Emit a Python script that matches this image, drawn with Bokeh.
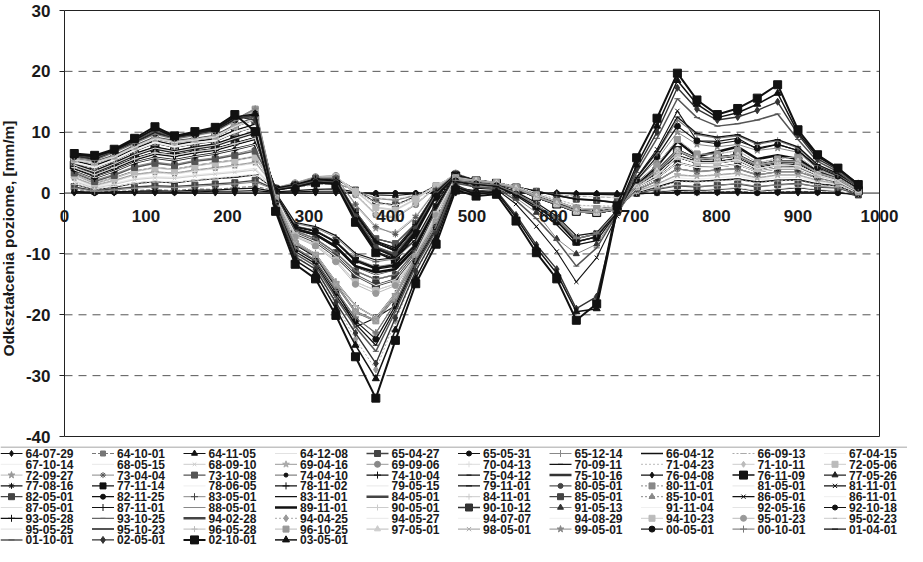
from bokeh.plotting import figure
from bokeh.layouts import column
from bokeh.models import Range1d, FixedTicker, Span, LinearAxis, Label
from bokeh.core.properties import value
from bokeh.embed import file_html
from bokeh.resources import INLINE

# ---------------- data ----------------
x_pos = [12, 37, 61, 86, 111, 135, 160, 185, 209, 234, 259, 283, 308, 333, 357, 382, 406, 431, 456, 480,
         505, 530, 554, 579, 604, 628, 653, 678, 702, 727, 752, 776, 801, 826, 850, 875, 900, 924, 949, 974]
x_ticks = [0, 100, 200, 300, 400, 500, 600, 700, 800, 900, 1000]
y_ticks = [-40, -30, -20, -10, 0, 10, 20, 30]
y_dashed = [-30, -20, -10, 10, 20]

dates = ["64-07-29", "64-10-01", "64-11-05", "64-12-08", "65-04-27", "65-05-31", "65-12-14", "66-04-12", "66-09-13", "67-04-15",
         "67-10-14", "68-05-15", "68-09-10", "69-04-16", "69-09-06", "70-04-13", "70-09-11", "71-04-23", "71-10-11", "72-05-06",
         "72-09-27", "73-04-04", "73-10-08", "74-04-10", "74-10-04", "75-04-12", "75-10-16", "76-04-08", "76-11-09", "77-05-26",
         "77-08-16", "77-11-14", "78-06-05", "78-11-02", "79-05-15", "79-11-01", "80-05-01", "80-11-01", "81-05-01", "81-11-01",
         "82-05-01", "82-11-25", "83-05-01", "83-11-01", "84-05-01", "84-11-01", "85-05-01", "85-10-01", "86-05-01", "86-11-01",
         "87-05-01", "87-11-01", "88-05-01", "89-11-01", "90-05-01", "90-10-12", "91-05-13", "91-11-04", "92-05-16", "92-10-18",
         "93-05-28", "93-10-25", "94-02-28", "94-04-25", "94-05-27", "94-07-07", "94-08-29", "94-10-23", "95-01-23", "95-02-23",
         "95-05-25", "95-10-23", "96-05-28", "96-10-25", "97-05-01", "98-05-01", "99-05-01", "00-05-01", "00-10-01", "01-04-01",
         "01-10-01", "02-05-01", "02-10-01", "03-05-01"]

s01 = [0, 0, 0, 0, 0, 0, 0, 0, 0, 0, 0, 0, 0, 0, 0, 0, 0, 0, 0, 0, 0, 0, 0, 0, 0, 0, 0, 0, 0, 0, 0, 0, 0, 0, 0, 0, 0, 0, 0, 0]
s02 = [0.5,0.2,0.3,0.4,0.6,0.4,0.7,0.6,0.9,1.1, 0.4,0.9,1.4,1.6,0.4,-0.8,-1.1,-0.3,0.9,1.8, 1.0,0.8,0.5,0.2,-0.2,-0.5,-0.6,-0.8, -0.1,0.0,0.2,0.1,0.2,0.3,0.1,0.2,0.3,0.2,0.1,-0.2]
s03 = [0.3,0.1,0.2,0.3,0.4,0.3,0.5,0.5,0.7,0.8, 0.2,0.4,0.6,0.7,0.2,-0.3,-0.4,-0.1,0.4,0.8, 0.4,0.3,0.2,0.1,0.0,-0.2,-0.2,-0.3, -0.2,0.2,0.5,0.4,0.6,0.8,0.3,0.6,0.9,0.5,0.3,-0.5]
s04 = [0.9,0.3,0.6,0.9,1.1,1.0,1.2,1.4,1.6,2.0, 0.4,1.0,1.5,1.7,0.5,-0.7,-1.0,-0.2,1.0,1.9, 1.1,0.9,0.6,0.2,-0.1,-0.4,-0.6,-0.7, -0.3,0.3,0.6,0.5,0.7,0.9,0.4,0.7,1.0,0.6,0.4,-0.4]
s05 = [1.0,0.4,0.7,1.0,1.2,1.1,1.3,1.5,1.7,2.1, 0.6,1.3,2.1,2.4,0.5,-1.6,-2.0,-0.6,1.2,2.6, 1.8,1.5,1.0,0.3,-0.4,-1.0,-1.2,-1.6, 0.0,0.6,1.2,1.0,1.3,1.5,1.0,1.4,1.6,1.0,0.8,-0.2]
s06 = [0.2,0.0,0.1,0.2,0.2,0.1,0.2,0.3,0.3,0.4, 0.1,0.2,0.3,0.3,0.0,0.0,0.0,0.0,0.1,0.4, 0.3,0.2,0.1,0.0,0.0,-0.1,-0.1,-0.2, -0.1,0.0,0.1,0.1,0.1,0.2,0.0,0.1,0.2,0.1,0.0,-0.2]
s07 = [0.8,0.3,0.5,0.8,1.0,0.9,1.1,1.3,1.5,1.8, 0.5,1.0,1.5,1.7,0.4,-0.9,-1.2,-0.4,0.8,1.9, 1.7,1.4,0.9,0.3,-0.3,-0.9,-1.1,-1.5, 0.1,0.7,1.3,1.1,1.2,1.6,1.1,1.3,1.5,1.1,0.9,-0.1]
s08 = [1.5,0.6,1.0,1.6,1.9,1.7,2.1,2.4,2.6,3.0, 0.6,1.3,2.1,2.4,0.5,-1.6,-2.0,-0.6,1.2,2.6, 1.8,1.5,1.0,0.3,-0.4,-1.0,-1.2,-1.6, 0.1,1.0,2.0,1.9,2.1,2.3,1.8,2.1,2.2,1.5,1.2,-0.1]
s09 = [1.4,0.5,1.1,1.5,1.8,1.8,2.0,2.3,2.7,2.9, 0.5,1.2,2.0,2.3,0.6,-1.5,-1.9,-0.5,1.3,2.5, 2.2,1.8,1.1,0.0,-1.0,-2.0,-2.1,-2.2, 0.0,0.9,1.9,1.8,2.0,2.2,1.7,2.0,2.1,1.4,1.1,-0.2]
s10 = [1.6,0.7,1.1,1.7,2.0,1.8,2.2,2.5,2.8,3.1, 0.7,1.4,2.2,2.5,0.4,-1.7,-2.1,-0.7,1.1,2.7, 2.1,1.7,1.0,-0.1,-1.1,-2.1,-2.2,-2.3, 0.2,1.2,2.5,2.3,2.5,2.8,2.2,2.5,2.6,1.8,1.4,0.0]
s11 = [2.0,0.9,1.5,2.3,2.6,2.5,2.9,3.2,3.5,4.0, 0.7,1.5,2.4,2.7,0.3,-2.4,-2.8,-1.0,1.2,3.0, 2.2,1.8,1.1,0.0,-1.0,-2.0,-2.1,-2.2, 0.2,1.2,2.5,2.3,2.5,2.8,2.2,2.5,2.6,1.8,1.4,0.0]
s12 = [2.1,1.0,1.6,2.4,2.7,2.6,3.0,3.3,3.6,4.1, 0.8,1.6,2.5,2.8,0.2,-2.5,-2.9,-1.1,1.1,3.1, 2.1,1.7,1.0,-0.3,-1.4,-2.5,-2.6,-2.4, 0.3,1.5,3.0,2.8,3.0,3.3,2.5,3.0,3.0,2.1,1.6,0.1]
s13 = [1.9,0.8,1.4,2.2,2.5,2.4,2.8,3.1,3.4,3.8, 0.6,1.4,2.3,2.6,0.4,-2.3,-2.7,-0.9,1.3,2.9, 2.0,1.6,0.9,-0.4,-1.5,-2.6,-2.7,-2.5, 0.2,1.4,2.9,2.7,2.9,3.2,2.4,2.9,2.9,2.0,1.5,0.0]
s14 = [2.5,1.2,2.0,3.0,3.4,3.2,3.7,4.1,4.5,5.0, 0.8,1.6,2.6,2.8,-0.2,-3.5,-4.0,-1.8,1.0,3.2, 2.1,1.7,1.0,-0.3,-1.4,-2.5,-2.6,-2.4, 0.3,1.5,3.0,2.8,3.0,3.3,2.5,3.0,3.0,2.1,1.6,0.1]
s15 = [2.6,1.3,2.1,3.1,3.5,3.3,3.8,4.2,4.6,5.1, 0.9,1.7,2.7,2.9,-0.3,-3.6,-4.1,-1.9,0.9,3.3, 2.0,1.6,0.8,-0.6,-1.8,-3.0,-3.2,-2.6, 0.5,2.0,4.0,3.5,3.8,4.0,3.0,3.5,3.5,2.5,1.8,0.2]
s16 = [2.4,1.1,1.9,2.9,3.3,3.1,3.6,4.0,4.4,4.9, 0.7,1.5,2.4,2.7,0.3,-2.4,-2.8,-1.0,1.2,3.0, 2.0,1.6,0.8,-0.6,-1.8,-3.0,-3.2,-2.6, 0.4,1.9,3.9,3.4,3.7,3.9,2.9,3.4,3.4,2.4,1.7,0.1]
s17 = [3.0,1.6,2.5,3.6,4.2,3.9,4.5,5.0,5.4,6.0, 0.8,1.4,2.4,2.3,-3.0,-7.5,-8.3,-5.0,0.3,3.1, 2.0,1.6,0.8,-0.6,-1.8,-3.0,-3.2,-2.6, 0.5,2.0,4.0,3.5,3.8,4.0,3.0,3.5,3.5,2.5,1.8,0.2]
s18 = [2.5,1.3,2.0,3.0,3.5,3.2,3.8,4.1,4.6,5.0, 0.9,1.7,2.6,2.9,-0.1,-3.4,-3.9,-1.7,1.1,3.2, 2.2,1.8,1.1,0.0,-1.0,-2.0,-2.1,-2.2, 0.3,1.5,3.0,2.8,3.0,3.3,2.5,3.0,3.0,2.1,1.6,0.1]
s19 = [3.0,1.7,2.5,3.6,4.3,3.9,4.6,5.0,5.5,6.1, 0.8,1.6,2.6,2.8,-0.2,-3.5,-4.0,-1.8,1.0,3.2, 2.1,1.7,1.0,-0.3,-1.4,-2.5,-2.6,-2.4, 0.5,2.0,4.0,3.5,3.8,4.0,3.0,3.5,3.5,2.5,1.8,0.2]
s20 = [2.9,1.5,2.4,3.5,4.1,3.8,4.4,4.9,5.3,5.9, 0.7,1.5,2.4,2.7,0.3,-2.4,-2.8,-1.0,1.2,3.0, 2.0,1.6,0.8,-0.6,-1.8,-3.0,-3.2,-2.6, 0.8,2.5,5.0,4.2,4.3,4.7,3.5,4.0,4.0,2.7,1.9,0.2]
s21 = [3.4,2.0,3.0,4.3,5.0,4.6,5.3,5.7,6.3,7.0, 0.8,1.5,2.5,2.5,-2.0,-5.8,-6.5,-3.8,0.6,3.2, 2.0,1.6,0.8,-0.6,-1.8,-3.0,-3.2,-2.6, 0.8,2.5,5.0,4.2,4.3,4.7,3.5,4.0,4.0,2.7,1.9,0.2]
s22 = [3.5,2.1,3.1,4.4,5.1,4.7,5.4,5.8,6.4,7.2, 0.9,1.6,2.6,2.6,-1.8,-5.5,-6.8,-4.0,0.5,3.3, 1.9,1.5,0.7,-0.7,-1.9,-3.1,-3.3,-2.7, 0.5,2.0,4.0,3.5,3.8,4.0,3.0,3.5,3.5,2.5,1.8,0.2]
s23 = [3.3,1.9,2.9,4.2,4.9,4.5,5.2,5.6,6.2,6.9, 0.8,1.4,2.4,2.3,-3.0,-7.5,-8.3,-5.0,0.3,3.1, 2.1,1.7,1.0,-0.3,-1.4,-2.5,-2.6,-2.4, 0.8,2.5,5.0,4.2,4.3,4.7,3.5,4.0,4.0,2.7,1.9,0.2]
s24 = [3.8,2.5,3.6,5.0,5.8,5.4,6.0,6.5,7.2,8.0, 0.6,1.2,2.0,1.8,-4.0,-9.0,-10.2,-6.0,-0.2,2.9, 2.0,1.6,0.8,-0.6,-1.8,-3.0,-3.2,-2.6, 0.9,2.6,5.1,4.3,4.4,4.8,3.6,4.1,4.1,2.8,2.0,0.3]
s25 = [3.7,2.4,3.5,4.9,5.7,5.3,5.9,6.4,7.1,7.9, 0.7,1.3,2.2,2.0,-3.5,-8.2,-9.5,-5.5,0.0,3.0, 2.1,1.7,1.0,-0.3,-1.4,-2.5,-2.6,-2.4, 1.0,3.0,6.0,5.0,5.0,5.5,4.0,4.6,4.5,3.0,2.0,0.3]
s26 = [3.9,2.6,3.7,5.1,5.9,5.5,6.1,6.6,7.3,8.1, 0.7,1.3,2.2,2.0,-3.4,-8.0,-9.3,-5.4,0.1,3.0, 2.0,1.6,0.8,-0.6,-1.8,-3.0,-3.2,-2.6, 1.0,3.0,6.0,5.0,5.0,5.5,4.0,4.6,4.5,3.0,2.0,0.3]
s27 = [4.2,3.0,4.2,5.6,6.6,6.2,6.8,7.2,8.1,9.0, 0.6,1.2,2.0,1.8,-4.0,-9.0,-10.5,-6.0,-0.2,2.9, 2.0,1.6,0.8,-0.6,-1.8,-3.0,-3.2,-2.6, 1.1,3.1,6.1,5.1,5.1,5.6,4.1,4.7,4.6,3.1,2.1,0.4]
s28 = [4.1,2.9,4.1,5.5,6.5,6.1,6.7,7.1,8.0,8.9, 0.5,1.0,1.8,1.5,-4.5,-9.5,-11.4,-6.5,-0.5,2.8, 1.9,1.5,0.7,-0.7,-1.9,-3.1,-3.3,-2.7, 0.8,2.5,5.0,4.2,4.3,4.7,3.5,4.0,4.0,2.7,1.9,0.2]
s29 = [4.6,3.5,4.8,6.3,7.4,6.8,7.4,7.9,9.0,10.0, 0.5,1.0,1.7,1.4,-4.8,-9.8,-11.0,-6.8,-0.6,2.8, 2.0,1.6,0.8,-0.6,-1.8,-3.0,-3.2,-2.6, 1.2,3.6,7.0,5.6,5.8,6.2,4.6,5.2,5.2,3.3,2.3,0.4]
s30 = [4.5,3.4,4.7,6.2,7.3,6.7,7.3,7.8,8.9,9.9, 0.6,1.2,2.0,1.8,-4.0,-9.0,-10.0,-6.0,-0.2,2.9, 2.1,1.7,1.0,-0.3,-1.4,-2.5,-2.6,-2.4, 1.2,3.6,7.0,5.6,5.8,6.2,4.6,5.2,5.2,3.3,2.3,0.4]
s31 = [4.3,3.1,4.3,5.7,6.7,6.3,6.9,7.3,8.2,9.1, 0.7,1.3,2.2,2.0,-3.5,-8.2,-9.5,-5.5,0.0,3.0, 2.0,1.6,0.8,-0.6,-1.8,-3.0,-3.2,-2.6, 1.0,3.0,6.0,5.0,5.0,5.5,4.0,4.6,4.5,3.0,2.0,0.3]
s32 = [4.7,3.6,4.9,6.4,7.5,6.9,7.5,8.0,9.1,10.1, -0.2,-5.5,-6.2,-8.0,-11.0,-12.3,-11.8,-8.4,-2.2,2.9, 2.0,1.6,0.8,-0.6,-1.8,-3.0,-3.2,-2.6, 1.3,3.7,7.1,5.7,5.9,6.3,4.7,5.3,5.3,3.4,2.4,0.5]
s33 = [3.8,2.5,3.6,5.0,5.8,5.4,6.0,6.5,7.2,8.0, 0.0,-5.0,-5.7,-7.3,-10.2,-11.3,-10.8,-7.8,-1.8,3.0, 2.0,1.6,0.8,-0.6,-1.8,-3.0,-3.2,-2.6, 1.0,3.0,6.0,5.0,5.0,5.5,4.0,4.6,4.5,3.0,2.0,0.3]
s34 = [4.0,2.8,4.0,5.4,6.4,6.0,6.6,7.0,7.9,8.8, 0.8,1.4,2.3,2.1,-3.2,-7.9,-9.0,-5.2,0.2,3.0, 2.0,1.6,0.8,-0.6,-1.8,-3.0,-3.2,-2.6, 0.9,2.9,5.9,4.9,4.9,5.4,3.9,4.5,4.4,2.9,1.9,0.2]
s35 = [4.2,3.0,4.2,5.6,6.6,6.2,6.8,7.2,8.1,9.0, -0.2,-5.5,-6.2,-8.0,-11.0,-12.3,-11.8,-8.4,-2.2,2.9, 2.0,1.6,0.8,-0.6,-1.8,-3.0,-3.2,-2.6, 1.0,3.0,6.0,5.0,5.0,5.5,4.0,4.6,4.5,3.0,2.0,0.3]
s36 = [4.8,3.7,5.0,6.5,7.6,7.0,7.6,8.1,9.2,10.2, 0.6,1.2,2.0,1.8,-4.2,-9.2,-10.4,-6.2,-0.3,2.9, 2.0,1.6,0.8,-0.6,-1.8,-3.0,-3.2,-2.6, 1.2,3.6,7.0,5.6,5.8,6.2,4.6,5.2,5.2,3.3,2.3,0.4]
s37 = [4.4,3.3,4.6,6.1,7.2,6.6,7.2,7.7,8.8,9.8, 0.6,1.2,2.0,1.8,-3.8,-8.8,-10.0,-5.8,-0.1,2.9, 1.6,1.3,0.0,-2.0,-4.2,-7.5,-6.7,-3.0, 1.2,3.6,7.0,5.6,5.8,6.2,4.6,5.2,5.2,3.3,2.3,0.4]
s38 = [5.0,4.2,5.4,7.0,8.3,7.6,8.2,8.6,10.0,11.0, -0.8,-7.0,-8.5,-11.0,-14.6,-16.0,-14.9,-10.5,-3.5,2.5, 2.1,1.7,1.0,-0.3,-1.4,-2.5,-2.6,-2.4, 1.6,4.6,8.8,6.4,6.4,7.0,5.0,5.6,6.0,3.8,2.6,0.5]
s39 = [4.6,3.5,4.8,6.3,7.4,6.8,7.4,7.9,9.0,10.0, -0.3,-5.9,-6.8,-8.8,-12.0,-13.3,-12.5,-9.0,-2.6,2.8, 2.0,1.6,0.8,-0.6,-1.8,-3.0,-3.2,-2.6, 1.0,3.0,6.0,5.0,5.0,5.5,4.0,4.6,4.5,3.0,2.0,0.3]
s40 = [5.5,5.0,6.0,7.6,9.0,8.4,8.8,9.3,11.0,12.2, -1.2,-8.5,-10.5,-15.5,-22.0,-20.5,-18.5,-10.5,-5.0,2.2, 0.8,0.6,-1.8,-5.5,-9.6,-14.6,-10.6,-3.8, 2.6,7.2,13.5,8.6,8.5,9.0,7.2,8.0,7.0,4.4,3.0,1.2]
s41 = [5.1,4.3,5.5,7.1,8.4,7.7,8.3,8.7,10.1,11.1, -0.5,-6.2,-7.5,-9.8,-12.8,-14.2,-13.4,-9.5,-3.0,2.7, 1.5,1.2,-0.2,-2.2,-4.6,-8.0,-7.2,-3.0, 1.2,3.6,7.0,5.6,5.8,6.2,4.6,5.2,5.2,3.3,2.3,0.4]
s42 = [4.5,3.4,4.7,6.2,7.3,6.7,7.3,7.8,8.9,9.9, 0.5,1.0,1.8,1.6,-4.4,-9.6,-10.8,-6.4,-0.4,2.8, 2.0,1.6,0.8,-0.6,-1.8,-3.0,-3.2,-2.6, 1.0,3.0,6.0,5.0,5.0,5.5,4.0,4.6,4.5,3.0,2.0,0.3]
s43 = [4.6,3.5,4.8,6.3,7.4,6.8,7.4,7.9,9.0,10.0, 0.0,-5.0,-5.7,-7.3,-10.2,-11.3,-10.8,-7.8,-1.8,3.0, 2.0,1.6,0.8,-0.6,-1.8,-3.0,-3.2,-2.6, 0.8,2.5,5.0,4.2,4.3,4.7,3.5,4.0,4.0,2.7,1.9,0.2]
s44 = [4.7,3.6,4.9,6.4,7.5,6.9,7.5,8.0,9.1,10.1, 0.1,-4.8,-5.5,-7.0,-9.9,-11.0,-10.6,-7.6,-1.6,3.0, 2.0,1.6,0.8,-0.6,-1.8,-3.0,-3.2,-2.6, 1.0,3.0,6.0,5.0,5.0,5.5,4.0,4.6,4.5,3.0,2.0,0.3]
s45 = [5.0,4.2,5.4,7.0,8.3,7.6,8.2,8.6,10.0,11.0, -0.3,-5.9,-6.8,-8.8,-12.0,-13.3,-12.5,-9.0,-2.6,2.8, 2.0,1.6,0.8,-0.6,-1.8,-3.0,-3.2,-2.6, 1.2,3.6,7.0,5.6,5.8,6.2,4.6,5.2,5.2,3.3,2.3,0.4]
s46 = [4.2,3.0,4.2,5.6,6.6,6.2,6.8,7.2,8.1,9.0, -0.2,-5.5,-6.2,-8.0,-11.0,-12.3,-11.8,-8.4,-2.2,2.9, 2.0,1.6,0.8,-0.6,-1.8,-3.0,-3.2,-2.6, 1.0,3.0,6.0,5.0,5.0,5.5,4.0,4.6,4.5,3.0,2.0,0.3]
s47 = [5.2,4.4,5.6,7.2,8.5,7.8,8.4,8.8,10.2,11.2, -0.6,-6.6,-8.0,-10.4,-13.5,-15.2,-14.2,-10.0,-3.2,2.6, 1.6,1.3,0.0,-2.0,-4.2,-7.5,-6.7,-3.0, 1.2,3.6,7.0,5.6,5.8,6.2,4.6,5.2,5.2,3.3,2.3,0.4]
s48 = [4.9,4.1,5.3,6.9,8.2,7.5,8.1,8.5,9.9,10.9, -0.5,-6.2,-7.5,-9.8,-12.8,-14.2,-13.4,-9.5,-3.0,2.7, 2.1,1.7,1.0,-0.3,-1.4,-2.5,-2.6,-2.4, 1.0,3.0,6.0,5.0,5.0,5.5,4.0,4.6,4.5,3.0,2.0,0.3]
s49 = [5.0,4.2,5.4,7.0,8.3,7.6,8.2,8.6,10.0,11.0, -0.2,-5.5,-6.2,-8.0,-11.0,-12.3,-11.8,-8.4,-2.2,2.9, 1.7,1.4,0.2,-1.6,-3.8,-7.0,-6.5,-2.8, 1.2,3.6,7.0,5.6,5.8,6.2,4.6,5.2,5.2,3.3,2.3,0.4]
s50 = [5.0,4.2,5.4,7.0,8.3,7.6,8.2,8.6,10.0,11.0, -0.3,-5.9,-6.8,-8.8,-12.0,-13.3,-12.5,-9.0,-2.6,2.8, 2.0,1.6,0.8,-0.6,-1.8,-3.0,-3.2,-2.6, 1.0,3.0,6.0,5.0,5.0,5.5,4.0,4.6,4.5,3.0,2.0,0.3]
s51 = [4.6,3.5,4.8,6.3,7.4,6.8,7.4,7.9,9.0,10.0, -0.3,-5.9,-6.8,-8.8,-12.0,-13.3,-12.5,-9.0,-2.6,2.8, 2.0,1.6,0.8,-0.6,-1.8,-3.0,-3.2,-2.6, 0.8,2.5,5.0,4.2,4.3,4.7,3.5,4.0,4.0,2.7,1.9,0.2]
s52 = [5.1,4.3,5.5,7.1,8.4,7.7,8.3,8.7,10.1,11.1, -0.2,-5.6,-6.3,-8.1,-11.2,-12.5,-12.0,-8.5,-2.3,2.9, 2.0,1.6,0.8,-0.6,-1.8,-3.0,-3.2,-2.6, 1.1,3.1,6.1,5.1,5.1,5.6,4.1,4.7,4.6,3.1,2.1,0.4]
s53 = [4.9,4.1,5.3,6.9,8.2,7.5,8.1,8.5,9.9,10.9, -0.1,-5.4,-6.1,-7.9,-10.8,-12.1,-11.6,-8.2,-2.0,2.9, 2.0,1.6,0.8,-0.6,-1.8,-3.0,-3.2,-2.6, 0.9,2.9,5.9,4.9,4.9,5.4,3.9,4.5,4.4,2.9,1.9,0.2]
s54 = [5.2,4.4,5.6,7.2,8.5,7.8,8.4,8.8,10.2,11.2, -0.3,-5.9,-6.8,-8.8,-12.0,-13.0,-12.5,-9.0,-2.6,2.8, 2.0,1.6,0.8,-0.6,-1.8,-3.0,-3.2,-2.6, 1.5,4.4,8.5,6.0,6.8,7.6,5.6,6.2,5.6,3.6,2.5,0.5]
s55 = [5.0,4.2,5.4,7.0,8.3,7.6,8.2,8.6,10.0,11.0, -0.5,-6.2,-7.5,-9.8,-12.8,-14.2,-13.4,-9.5,-3.0,2.7, 2.0,1.6,0.8,-0.6,-1.8,-3.0,-3.2,-2.6, 1.0,3.0,6.0,5.0,5.0,5.5,4.0,4.6,4.5,3.0,2.0,0.3]
s56 = [5.5,5.0,6.0,7.6,9.0,8.4,8.8,9.3,11.0,12.2, -0.6,-6.6,-8.0,-10.4,-13.5,-15.2,-14.2,-10.0,-3.2,2.6, 1.5,1.2,-0.2,-2.2,-4.6,-8.0,-7.2,-3.0, 1.2,3.6,7.0,5.6,5.8,6.2,4.6,5.2,5.2,3.3,2.3,0.4]
s57 = [5.4,4.9,5.9,7.5,8.9,8.3,8.7,9.2,10.9,12.1, -0.5,-6.2,-7.5,-9.8,-12.8,-14.2,-13.4,-9.5,-3.0,2.7, 1.2,1.0,-0.8,-3.2,-7.5,-10.0,-8.4,-3.4, 1.2,3.6,7.0,5.6,5.8,6.2,4.6,5.2,5.2,3.3,2.3,0.4]
s58 = [5.0,4.2,5.4,7.0,8.3,7.6,8.2,8.6,10.0,11.0, -0.6,-6.6,-8.0,-10.4,-13.5,-15.2,-14.2,-10.0,-3.2,2.6, 2.0,1.6,0.8,-0.6,-1.8,-3.0,-3.2,-2.6, 1.0,3.0,6.0,5.0,5.0,5.5,4.0,4.6,4.5,3.0,2.0,0.3]
s59 = [5.1,4.3,5.5,7.1,8.4,7.7,8.3,8.7,10.1,11.1, -0.5,-6.2,-7.5,-9.8,-12.8,-14.2,-13.4,-9.5,-3.0,2.7, 2.0,1.6,0.8,-0.6,-1.8,-3.0,-3.2,-2.6, 1.0,3.0,6.0,5.0,5.0,5.5,4.0,4.6,4.5,3.0,2.0,0.3]
s60 = [5.6,5.1,6.1,7.7,9.1,8.5,8.9,9.4,11.1,12.3, -0.2,-5.5,-6.2,-8.0,-11.0,-12.3,-11.8,-8.4,-2.2,2.9, 2.0,1.6,0.8,-0.6,-1.8,-3.0,-3.2,-2.6, 1.2,3.6,7.0,5.6,5.8,6.2,4.6,5.2,5.2,3.3,2.3,0.4]
s61 = [5.5,5.0,6.0,7.6,9.0,8.4,8.8,9.3,11.0,12.2, -1.0,-8.0,-10.0,-14.6,-18.5,-20.5,-16.5,-10.0,-4.5,2.4, 2.0,1.6,0.8,-0.6,-1.8,-3.0,-3.2,-2.6, 1.2,3.6,7.0,5.6,5.8,6.2,4.6,5.2,5.2,3.3,2.3,0.4]
s62 = [5.4,4.9,5.9,7.5,8.9,8.3,8.7,9.2,10.9,12.1, -0.5,-6.2,-7.5,-9.8,-12.8,-14.2,-13.4,-9.5,-3.0,2.7, 2.0,1.6,0.8,-0.6,-1.8,-3.0,-3.2,-2.6, 1.0,3.0,6.0,5.0,5.0,5.5,4.0,4.6,4.5,3.0,2.0,0.3]
s63 = [5.6,5.1,6.1,7.7,9.1,8.5,8.9,9.4,11.1,12.3, -0.6,-6.6,-8.0,-10.4,-13.5,-15.2,-14.2,-10.0,-3.2,2.6, 2.0,1.6,0.8,-0.6,-1.8,-3.0,-3.2,-2.6, 1.2,3.6,7.0,5.6,5.8,6.2,4.6,5.2,5.2,3.3,2.3,0.4]
s64 = [5.5,5.0,6.0,7.6,9.0,8.4,8.8,9.3,11.0,12.2, -2.2,-10.2,-12.6,-18.4,-24.0,-29.0,-21.0,-13.0,-7.0,1.4, 2.1,1.7,1.0,-0.3,-1.4,-2.5,-2.6,-2.4, 1.0,3.0,6.0,5.0,5.0,5.5,4.0,4.6,4.5,3.0,2.0,0.3]
s65 = [5.0,4.2,5.4,7.0,8.3,7.6,8.2,8.6,10.0,11.0, -0.8,-7.0,-8.5,-11.0,-14.6,-16.0,-14.9,-10.5,-3.5,2.5, 2.0,1.6,0.8,-0.6,-1.8,-3.0,-3.2,-2.6, 1.0,3.0,6.0,5.0,5.0,5.5,4.0,4.6,4.5,3.0,2.0,0.3]
s66 = [5.0,4.2,5.4,7.0,8.3,7.6,8.2,8.6,10.0,11.0, -0.8,-7.0,-8.5,-11.0,-14.6,-16.0,-14.9,-10.5,-3.5,2.5, 2.0,1.6,0.8,-0.6,-1.8,-3.0,-3.2,-2.6, 0.8,2.5,5.0,4.2,4.3,4.7,3.5,4.0,4.0,2.7,1.9,0.2]
s67 = [5.1,4.3,5.5,7.1,8.4,7.7,8.3,8.7,10.1,11.1, -0.6,-6.6,-8.0,-10.4,-13.5,-15.2,-14.2,-10.0,-3.2,2.6, 2.0,1.6,0.8,-0.6,-1.8,-3.0,-3.2,-2.6, 1.0,3.0,6.0,5.0,5.0,5.5,4.0,4.6,4.5,3.0,2.0,0.3]
s68 = [5.5,5.0,6.0,7.6,9.0,8.4,8.8,9.3,11.0,12.2, -0.8,-7.0,-8.5,-11.0,-14.6,-16.0,-14.9,-10.5,-3.5,2.5, 2.0,1.6,0.8,-0.6,-1.8,-3.0,-3.2,-2.6, 1.0,3.0,6.0,5.0,5.0,5.5,4.0,4.6,4.5,3.0,2.0,0.3]
s69 = [5.6,5.1,6.1,7.7,9.1,8.5,8.9,9.4,11.1,12.3, -0.9,-7.2,-8.7,-11.3,-15.0,-16.5,-15.2,-10.8,-3.7,2.5, 2.1,1.7,1.0,-0.3,-1.4,-2.5,-2.6,-2.4, 1.2,3.6,7.0,5.6,5.8,6.2,4.6,5.2,5.2,3.3,2.3,0.4]
s70 = [5.5,5.0,6.0,7.6,9.0,8.4,8.8,9.3,11.0,12.2, -1.0,-8.0,-10.0,-14.6,-18.5,-20.5,-16.5,-10.0,-4.5,2.4, 2.0,1.6,0.8,-0.6,-1.8,-3.0,-3.2,-2.6, 1.0,3.0,6.0,5.0,5.0,5.5,4.0,4.6,4.5,3.0,2.0,0.3]
s71 = [5.4,4.9,5.9,7.5,8.9,8.3,8.7,9.2,10.9,12.1, -1.2,-8.2,-10.2,-15.0,-19.5,-21.0,-17.0,-10.5,-4.8,2.3, 2.0,1.6,0.8,-0.6,-1.8,-3.0,-3.2,-2.6, 1.0,3.0,6.0,5.0,5.0,5.5,4.0,4.6,4.5,3.0,2.0,0.3]
s72 = [6.0,5.5,6.8,8.3,9.8,9.0,9.6,10.2,12.0,13.8, -1.2,-8.2,-10.2,-15.0,-19.5,-21.0,-17.0,-10.5,-4.8,2.3, 2.0,1.6,0.8,-0.6,-1.8,-3.0,-3.2,-2.6, 1.2,3.6,7.0,5.6,5.8,6.2,4.6,5.2,5.2,3.3,2.3,0.4]
s73 = [5.9,5.4,6.7,8.2,9.7,8.9,9.5,10.1,11.9,13.6, -1.0,-8.0,-10.0,-14.6,-18.5,-20.5,-16.5,-10.0,-4.5,2.4, 2.1,1.7,1.0,-0.3,-1.4,-2.5,-2.6,-2.4, 1.2,3.6,7.0,5.6,5.8,6.2,4.6,5.2,5.2,3.3,2.3,0.4]
s74 = [6.0,5.5,6.8,8.3,9.8,9.0,9.6,10.2,12.0,13.8, -1.2,-8.2,-10.2,-15.0,-19.5,-21.0,-17.0,-10.5,-4.8,2.3, 2.1,1.7,1.0,-0.3,-1.4,-2.5,-2.6,-2.4, 1.6,4.6,8.8,6.4,6.4,7.0,5.0,5.6,6.0,3.8,2.6,0.5]
s75 = [5.8,5.3,6.6,8.1,9.6,8.8,9.4,10.0,11.8,13.5, -1.5,-9.0,-11.0,-16.0,-20.5,-23.0,-18.0,-11.0,-5.4,2.1, 2.0,1.6,0.8,-0.6,-1.8,-3.0,-3.2,-2.6, 1.2,3.6,7.0,5.6,5.8,6.2,4.6,5.2,5.2,3.3,2.3,0.4]
s76 = [6.1,5.6,6.9,8.4,9.9,9.1,9.7,10.3,12.1,13.8, -1.2,-8.2,-10.2,-15.0,-19.5,-21.0,-17.0,-10.5,-4.8,2.3, 2.0,1.6,0.8,-0.6,-1.8,-3.0,-3.2,-2.6, 1.2,3.6,7.0,5.6,5.8,6.2,4.6,5.2,5.2,3.3,2.3,0.4]
s77 = [6.0,5.5,6.8,8.3,9.8,9.0,9.6,10.2,12.0,13.8, -1.5,-9.0,-11.0,-16.0,-20.5,-23.0,-18.0,-11.0,-5.4,2.1, 1.6,1.3,0.0,-2.0,-4.2,-7.5,-6.7,-3.0, 2.0,5.5,10.0,8.0,7.6,8.0,7.0,7.4,6.7,4.0,2.8,0.8]
s78 = [6.0,5.5,6.8,8.3,9.8,9.0,9.6,10.2,12.0,13.0, -1.6,-9.2,-11.2,-16.3,-21.0,-24.0,-18.5,-11.2,-5.6,2.0, 1.5,1.2,-0.2,-2.2,-4.6,-8.0,-7.2,-3.0, 2.1,6.0,11.0,8.6,8.1,8.6,7.4,8.0,7.0,4.2,2.8,0.8]
s79 = [5.9,5.4,6.7,8.2,9.7,8.9,9.5,10.1,11.9,13.2, -1.5,-9.0,-11.0,-16.0,-20.5,-23.0,-18.0,-11.0,-5.4,2.1, 1.6,1.3,0.0,-2.0,-4.2,-7.5,-6.7,-3.0, 2.4,6.6,12.0,9.6,9.0,9.4,8.0,8.6,7.4,4.6,3.1,1.0]
s80 = [6.2,5.7,7.0,8.5,10.0,9.2,9.8,10.4,12.2,12.8, -1.8,-9.6,-11.6,-16.8,-21.5,-25.0,-19.0,-11.6,-6.0,1.8, 1.4,1.1,-0.4,-2.6,-5.2,-8.5,-7.8,-3.2, 2.5,6.8,12.5,9.8,9.2,9.6,8.2,8.8,7.6,4.7,3.2,1.1]
s81 = [6.3,5.8,7.0,8.6,10.2,9.2,9.9,10.5,12.4,12.5, -2.0,-10.0,-12.0,-17.2,-22.0,-26.0,-19.5,-12.0,-6.2,1.6, 1.0,0.8,-1.2,-4.2,-7.8,-12.0,-9.0,-3.5, 3.4,9.0,15.5,12.4,11.0,11.4,12.0,13.0,8.8,5.2,3.5,1.0]
s82 = [6.4,6.0,7.1,8.8,10.5,9.3,10.0,10.6,12.6,12.0, -2.4,-10.5,-12.5,-18.0,-23.0,-28.0,-20.5,-12.8,-6.8,1.3, 0.0,0.4,-3.6,-8.5,-12.5,-19.0,-17.0,-3.2, 4.0,10.0,17.3,13.8,12.0,12.5,13.6,15.0,9.6,5.6,3.8,1.2]
s83 = [6.5,6.2,7.2,9.0,10.9,9.4,10.1,10.8,12.9,10.1, -3.0,-11.7,-14.1,-20.1,-26.9,-33.7,-24.2,-14.9,-8.4,0.5, -0.5,-0.2,-4.6,-9.8,-14.1,-20.9,-18.2,-2.1, 5.8,12.3,19.7,15.3,12.9,13.9,15.6,17.8,10.4,6.3,4.1,1.4]
s84 = [6.3,6.0,7.0,8.7,10.6,9.2,9.9,10.5,12.5,13.0, -2.6,-11.0,-13.2,-19.0,-25.0,-30.5,-22.5,-14.0,-7.5,1.0, -0.2,0.2,-4.0,-9.0,-13.2,-19.5,-19.0,-3.0, 4.6,11.0,18.5,14.6,12.4,13.2,14.6,16.4,9.9,6.0,4.0,1.5]

series = [s01, s02, s03, s04, s05, s06, s07, s08, s09, s10, s11, s12, s13, s14, s15, s16, s17, s18, s19, s20,
          s21, s22, s23, s24, s25, s26, s27, s28, s29, s30, s31, s32, s33, s34, s35, s36, s37, s38, s39, s40,
          s41, s42, s43, s44, s45, s46, s47, s48, s49, s50, s51, s52, s53, s54, s55, s56, s57, s58, s59, s60,
          s61, s62, s63, s64, s65, s66, s67, s68, s69, s70, s71, s72, s73, s74, s75, s76, s77, s78, s79, s80,
          s81, s82, s83, s84]

# ---------------- styles: (line colour, width, dash, marker, marker size, marker colour) ----------------
styles = [
    ("#111111", 1.2, "solid", "diamond", 6, "#111111"), ("#777777", 1, "4 2", "square", 5, "#777777"),
    ("#111111", 1.2, "solid", "triangle", 6, "#111111"), ("#e2e2e2", 1, "solid", None, 0, None),
    ("#444444", 1.3, "solid", "square", 6, "#444444"), ("#111111", 1.2, "solid", "circle", 5, "#111111"),
    ("#888888", 1, "solid", "cross", 7, "#888888"), ("#111111", 1.6, "solid", "dash", 7, "#111111"),
    ("#aaaaaa", 1, "2 2", "dash", 6, "#aaaaaa"), ("#eeeeee", 1, "solid", None, 0, None),
    ("#eeeeee", 1, "solid", None, 0, None), ("#e8e8e8", 1, "solid", None, 0, None),
    ("#cccccc", 1, "solid", "x", 5, "#cccccc"), ("#999999", 1, "solid", "star", 7, "#aaaaaa"),
    ("#999999", 1, "solid", "circle", 6, "#888888"), ("#dddddd", 1, "solid", "cross", 6, "#dddddd"),
    ("#111111", 1.2, "solid", "dash", 5, "#111111"), ("#bbbbbb", 1, "2 2", None, 0, None),
    ("#cccccc", 1, "solid", "diamond", 6, "#bbbbbb"), ("#cccccc", 1, "solid", "square", 6, "#bbbbbb"),
    ("#bbbbbb", 1, "solid", "star", 7, "#999999"), ("#888888", 1, "solid", "asterisk", 6, "#555555"),
    ("#555555", 1.3, "solid", "square", 6, "#555555"), ("#666666", 1, "solid", "circle", 4, "#111111"),
    ("#111111", 1.2, "solid", "cross", 7, "#111111"), ("#111111", 1.2, "solid", "dash", 5, "#111111"),
    ("#333333", 2.5, "solid", None, 0, None), ("#111111", 1.2, "solid", "diamond", 6, "#111111"),
    ("#111111", 1.5, "solid", "square", 8, "#111111"), ("#222222", 1.2, "solid", "triangle", 6, "#222222"),
    ("#111111", 1.2, "solid", "asterisk", 6, "#111111"), ("#111111", 1.4, "solid", "square", 6, "#111111"),
    ("#eeeeee", 1, "solid", None, 0, None), ("#111111", 1.2, "solid", "cross", 7, "#111111"),
    ("#e8e8e8", 1, "solid", None, 0, None), ("#111111", 1.2, "solid", "dash", 6, "#111111"),
    ("#555555", 1.3, "solid", "circle", 5, "#444444"), ("#888888", 1, "2 2", "square", 6, "#888888"),
    ("#e6e6e6", 1, "solid", None, 0, None), ("#111111", 1.1, "solid", "x", 6, "#111111"),
    ("#444444", 1.3, "solid", "square", 6, "#444444"), ("#111111", 1.2, "solid", "circle", 5, "#111111"),
    ("#888888", 1, "solid", "cross", 7, "#444444"), ("#111111", 1.2, "solid", None, 0, None),
    ("#444444", 2.5, "solid", None, 0, None), ("#cccccc", 1, "solid", "cross", 6, "#cccccc"),
    ("#444444", 1.3, "solid", "square", 6, "#444444"), ("#888888", 1, "2 2", "triangle", 6, "#888888"),
    ("#111111", 1.2, "solid", "x", 6, "#111111"), ("#eeeeee", 1, "solid", None, 0, None),
    ("#dddddd", 1, "solid", None, 0, None), ("#111111", 1.2, "solid", "cross", 7, "#111111"),
    ("#888888", 1, "solid", "dash", 5, "#888888"), ("#111111", 2.5, "solid", None, 0, None),
    ("#cccccc", 1, "solid", "cross", 6, "#cccccc"), ("#333333", 1.4, "solid", "square", 7, "#333333"),
    ("#888888", 1, "solid", "triangle", 6, "#333333"), ("#f0f0f0", 1, "solid", None, 0, None),
    ("#e4e4e4", 1, "solid", None, 0, None), ("#111111", 1.2, "solid", "circle", 5, "#111111"),
    ("#111111", 1.2, "solid", "cross", 7, "#111111"), ("#666666", 1.2, "solid", "dash", 5, "#666666"),
    ("#444444", 2.5, "solid", None, 0, None), ("#aaaaaa", 1, "2 2", "diamond", 7, "#999999"),
    ("#e8e8e8", 1, "solid", None, 0, None), ("#f0f0f0", 1, "solid", None, 0, None),
    ("#f0f0f0", 1, "solid", None, 0, None), ("#cccccc", 1, "solid", "square", 6, "#bbbbbb"),
    ("#bbbbbb", 1, "solid", "circle", 6, "#999999"), ("#cccccc", 1, "solid", "dash", 4, "#aaaaaa"),
    ("#dddddd", 1, "solid", None, 0, None), ("#555555", 2, "solid", "dash", 6, "#555555"),
    ("#bbbbbb", 1, "solid", "cross", 6, "#bbbbbb"), ("#bbbbbb", 1, "solid", "square", 6, "#999999"),
    ("#bbbbbb", 1, "solid", "triangle", 6, "#cccccc"), ("#999999", 1, "solid", "x", 6, "#aaaaaa"),
    ("#888888", 1, "solid", "star", 7, "#888888"), ("#111111", 1.2, "solid", "circle", 6, "#111111"),
    ("#777777", 1.1, "solid", "cross", 7, "#777777"), ("#111111", 1.3, "solid", "dash", 6, "#111111"),
    ("#555555", 1.5, "solid", "dash", 6, "#555555"), ("#333333", 1.4, "solid", "diamond", 7, "#333333"),
    ("#111111", 2, "solid", "square", 8, "#111111"), ("#111111", 1.5, "solid", "triangle", 7, "#111111"),
]

for s in series:
    assert len(s) == len(x_pos)
assert len(series) == len(dates) == len(styles)

FONT = "Liberation Sans"
TXT = "#1a1a1a"
AX = "#222222"
Y_TITLE = "Odkształcenia poziome, [mm/m]"

# ---------------- main plot ----------------
# The frame fills the whole canvas so that the axes, drawn at x = 0 and y = 0,
# keep their labels un-clipped (Excel style, labels under the zero line).
W, MAIN_H = 907, 446
X0_PX, PX_PER_X = 64, 0.815          # pixel of x = 0, pixels per metre
Y_TOP_PX, Y_BOT_PX = 10, 436         # pixels of y = 30 and y = -40
TITLE_PX = 238                       # pixel row of the y-axis title centre
y_hi, y_lo = y_ticks[-1], y_ticks[0]
x_lo, x_hi = x_ticks[0], x_ticks[-1]
PX_PER_Y = (Y_BOT_PX - Y_TOP_PX) / (y_hi - y_lo)

p = figure(width=W, height=MAIN_H,
           x_range=Range1d(x_lo - X0_PX / PX_PER_X, x_lo + (W - X0_PX) / PX_PER_X),
           y_range=Range1d(y_lo - (MAIN_H - Y_BOT_PX) / PX_PER_Y, y_hi + Y_TOP_PX / PX_PER_Y),
           output_backend="svg", toolbar_location=None, x_axis_type=None, y_axis_type=None,
           min_border=0, min_border_left=0, min_border_right=0, min_border_top=0, min_border_bottom=0)
p.background_fill_color = "white"
p.border_fill_color = "white"
p.outline_line_color = None
p.xgrid.visible = False
p.ygrid.visible = False

# dashed horizontal gridlines inside the plot area
p.segment(x0=x_lo, x1=x_hi, y0=y_dashed, y1=y_dashed, line_color="#555555", line_width=1, line_dash="8 6")
# zero line
p.segment(x0=x_lo, x1=x_hi, y0=0, y1=0, line_color=AX, line_width=1)

for s, (lc, lw, dash, mk, ms, mc) in zip(series, styles):
    p.line(x_pos, s, line_color=lc, line_width=lw, line_dash=dash)
    if mk is not None:
        p.scatter(x_pos, s, marker=mk, size=ms, fill_color=mc, line_color=mc, line_width=1)

# plot-area border
p.segment(x0=[x_lo, x_lo], x1=[x_hi, x_hi], y0=[y_lo, y_hi], y1=[y_lo, y_hi], line_color=AX, line_width=1)
p.segment(x0=[x_lo, x_hi], x1=[x_lo, x_hi], y0=[y_lo, y_lo], y1=[y_hi, y_hi], line_color=AX, line_width=1)

# x axis at y = 0
xa = LinearAxis(fixed_location=0, ticker=FixedTicker(ticks=x_ticks))
xa.axis_line_color = None
xa.major_tick_line_color = None
xa.minor_tick_line_color = None
xa.major_tick_in = 0
xa.major_tick_out = 0
xa.major_label_standoff = 17
xa.major_label_text_font = FONT
xa.major_label_text_font_style = "bold"
xa.major_label_text_font_size = "17px"
xa.major_label_text_color = TXT
p.add_layout(xa, "below")

# y axis at x = 0
ya = LinearAxis(fixed_location=0, ticker=FixedTicker(ticks=y_ticks))
ya.major_label_overrides = {t: str(t) for t in y_ticks}
ya.axis_line_color = None
ya.minor_tick_line_color = None
ya.major_tick_in = 0
ya.major_tick_out = 5
ya.major_tick_line_color = AX
ya.major_label_standoff = 9
ya.major_label_text_font = FONT
ya.major_label_text_font_style = "bold"
ya.major_label_text_font_size = "17px"
ya.major_label_text_color = TXT
p.add_layout(ya, "left")

# y-axis title, vertical, left of the tick labels
p.add_layout(Label(x=x_lo, y=y_hi - (TITLE_PX - Y_TOP_PX) / PX_PER_Y, x_offset=-56,
                   text=Y_TITLE, angle=90, angle_units="deg",
                   text_align="center", text_baseline="middle",
                   text_font=FONT, text_font_style="bold", text_font_size="15.5px", text_color=TXT))

# ---------------- legend (separate strip) ----------------
LEG_H = 100
leg = figure(width=W, height=LEG_H, x_range=Range1d(0, W), y_range=Range1d(LEG_H, 0),
             output_backend="svg", toolbar_location=None, x_axis_type=None, y_axis_type=None,
             min_border=0, min_border_left=0, min_border_right=0, min_border_top=0, min_border_bottom=0)
leg.xgrid.visible = False
leg.ygrid.visible = False
leg.outline_line_color = None
leg.background_fill_color = "white"
leg.border_fill_color = "white"
leg.add_layout(Span(location=0.5, dimension="width", line_color="#888888", line_width=1))

COL_W = 91.5
ROW_H = 10.8
lab_x, lab_y = [], []
for i, (lc, lw, dash, mk, ms, mc) in enumerate(styles):
    col, row = i % 10, i // 10
    x0 = COL_W * col
    yy = 7 + ROW_H * row
    leg.line([x0, x0 + 22], [yy, yy], line_color=lc, line_width=lw, line_dash=dash)
    if mk is not None:
        leg.scatter([x0 + 11], [yy], marker=mk, size=ms, fill_color=mc, line_color=mc, line_width=1)
    lab_x.append(x0 + 25)
    lab_y.append(yy)

leg.text(x=lab_x, y=lab_y, text=dates, text_font=value(FONT), text_font_style="bold",
         text_font_size="12px", text_baseline="middle", text_align="left", text_color=TXT)

layout = column(p, leg, spacing=0)
open("out.html", "w").write(file_html(layout, INLINE))
